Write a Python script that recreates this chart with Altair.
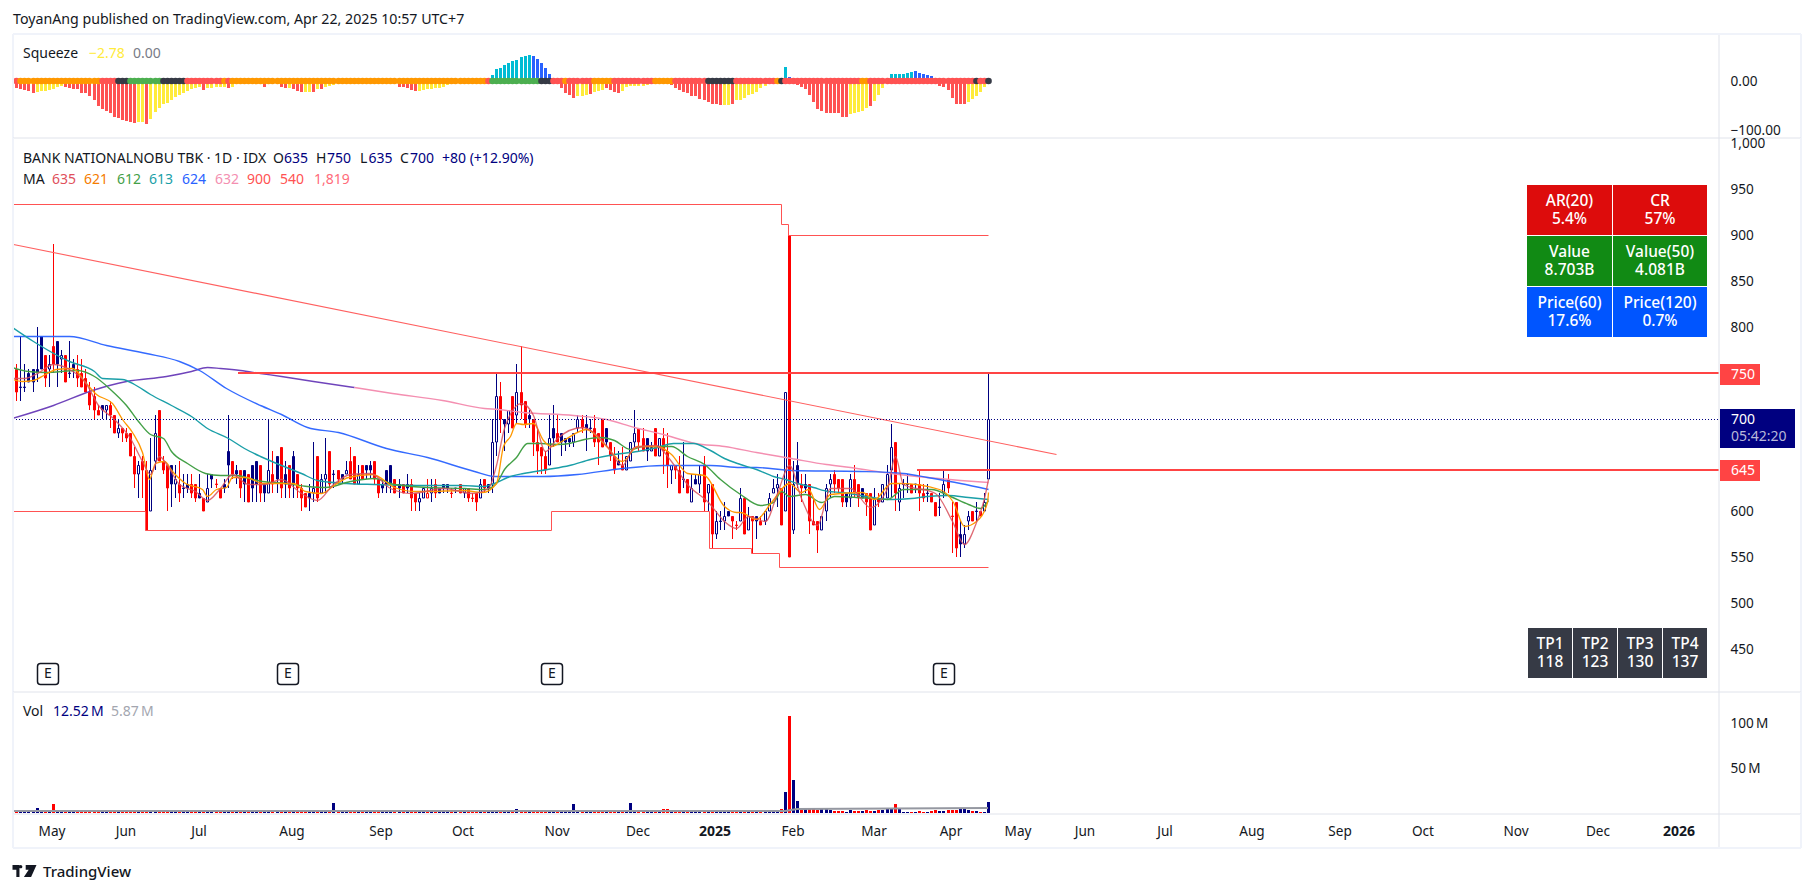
import altair as alt
import pandas as pd

FONT = "Noto Sans"
DARK = "#131722"
NAVY = "#000080"
RED = "#ff0000"
W = 1706
LEFT = 13
LEG = 14
AXF = 13.6
TAB = 15.5
TOPS = dict(head=8, sq=34, main=138, vol=692, time=814, foot=848)
H = dict(head=26, sq=104, main=554, vol=122, time=34, foot=33)
XDOM = [-0.81, 418.7]

kinds = ("rnnnnnnrNr" "nNrnnrrrrr" "rnNrrNrrrr" "NrrNNrrrnN" "rnnrrnrNnr" "rnnrnrnrnn"
         "rnNrnrnrnr" "rrnNrNNrnr" "nNrrNrnnrr" "nnnrnrnrrN" "NRNrnnnrnr" "NrrrNrnNNr"
         "nNrNrrnrrr" "rNnrnnnNNr" "nnrrrnrrnr" "NNNrrnNrNr" "rNrrnrNnNr" "NrNnNnrrNr"
         "NrnrNNNNrN" "rNnrnrrrNN" "NrrrnNrrnr" "rNrNNNrNnn" "rnrrnrrnNr" "rrnNNrnrNN")
highs = [760,790,760,755,755,800,790,770,770,890, 785,775,770,785,765,770,765,755,740,735,
         715,715,715,720,705,700,690,690,685,670, 655,660,655,680,705,710,660,650,650,650,
         655,640,640,640,630,640,615,640,640,635, 625,635,705,655,650,645,645,640,650,655,
         650,630,700,665,660,670,655,650,665,640, 630,620,630,675,660,640,680,665,645,645,
         640,655,670,660,650,650,650,655,655,635, 635,645,650,635,635,630,640,635,620,620,
         625,635,635,635,625,630,630,625,625,630, 625,625,620,620,635,635,630,700,750,740,
         700,710,725,760,780,720,710,700,690,670, 665,705,715,705,685,680,680,685,705,705,
         705,700,705,685,700,690,675,670,665,670, 660,675,710,690,690,680,675,690,680,690,
         685,650,650,660,675,635,640,640,650,660, 630,630,600,600,610,600,595,590,625,615,
         605,595,595,595,600,620,635,640,625,730, 900,655,675,640,640,630,615,590,595,630,
         640,645,635,635,620,640,650,630,625,620, 620,625,620,630,650,695,675,630,635,640,
         630,630,645,630,630,620,610,620,645,640, 610,610,590,585,600,600,610,600,620,750]
tops = [755,735,735,750,755,755,790,770,760,780, 785,770,770,750,760,755,750,745,730,725,
        710,715,715,715,705,690,690,685,685,660, 650,655,645,645,685,710,655,650,650,635,
        630,625,630,630,630,620,615,625,640,630, 625,630,665,655,645,645,645,640,650,655,
        650,630,645,640,660,670,640,650,660,640, 625,620,620,625,660,635,640,665,640,645,
        640,645,655,660,640,650,650,650,655,635, 630,645,650,635,630,630,630,630,620,615,
        625,620,625,630,625,630,630,620,625,630, 625,625,615,620,630,635,630,675,725,725,
        700,710,725,730,730,720,705,700,675,670, 660,680,690,685,685,680,680,685,700,700,
        695,690,690,685,700,690,675,660,655,650, 660,675,685,690,680,680,670,690,680,680,
        665,650,650,645,635,635,625,635,640,650, 630,630,590,590,595,600,595,585,615,615,
        595,595,595,590,600,615,625,630,625,730, 900,630,650,630,630,630,590,590,595,625,
        635,640,635,635,620,635,635,630,625,620, 620,615,615,630,640,670,675,625,630,630,
        630,630,630,620,620,620,610,605,630,635, 595,610,575,575,595,600,600,600,610,700]
bottoms = [730,735,735,740,740,750,755,745,755,760, 760,765,740,750,755,745,735,730,715,710,
           705,710,710,705,685,685,685,680,660,640, 640,645,580,600,655,655,645,625,630,630,
           620,625,625,620,615,615,600,610,635,630, 615,625,650,640,640,625,630,610,625,630,
           620,620,620,630,635,625,630,625,630,625, 615,605,615,620,615,620,635,630,640,635,
           635,640,635,630,630,635,645,645,635,620, 625,630,630,620,625,620,625,615,610,610,
           615,615,620,620,620,625,625,620,625,620, 620,615,615,610,615,625,625,630,675,700,
           695,695,690,705,715,695,700,675,665,660, 645,650,680,675,675,675,675,675,690,690,
           690,690,675,675,670,675,660,645,650,645, 645,655,675,675,665,665,665,660,660,665,
           650,645,645,620,635,620,610,630,630,610, 620,575,575,590,590,595,590,585,590,575,
           580,590,590,585,590,600,620,625,585,600, 550,580,630,625,625,590,585,580,580,600,
           630,630,625,610,610,615,620,615,615,610, 580,585,610,610,615,645,620,610,630,630,
           620,630,620,615,620,610,595,605,620,625, 595,560,565,565,590,590,600,595,600,635]
lows = [720,720,730,740,730,740,755,735,735,750, 735,750,740,745,745,735,735,730,710,700,
        705,700,700,690,685,680,675,675,660,625, 615,615,580,600,645,655,640,600,605,615,
        610,615,620,615,610,615,600,610,625,625, 615,620,625,635,630,615,610,610,610,610,
        610,610,620,620,620,615,615,615,615,615, 600,605,600,610,610,620,620,625,625,630,
        630,640,635,630,630,635,635,635,630,615, 620,620,620,620,615,620,620,600,600,600,
        615,615,610,615,620,620,620,615,620,620, 615,610,610,600,615,620,620,620,660,685,
        665,685,690,695,700,690,690,660,640,640, 640,650,670,675,660,665,670,670,685,685,
        665,685,670,650,670,670,655,640,650,645, 645,655,670,665,665,655,665,660,660,640,
        625,630,635,620,625,620,610,630,620,600, 600,560,570,580,580,595,570,580,590,575,
        580,555,570,585,585,600,620,605,585,600, 550,575,625,610,620,575,585,555,580,590,
        615,620,620,605,605,605,615,605,615,595, 580,585,605,610,615,615,600,600,615,620,
        620,620,600,610,610,610,595,595,615,620, 555,550,550,560,580,590,590,595,600,635]
volume = [1.2,1.0,1.1,1.5,1.2,6.0,2.0,1.8,1.5,10.0, 2.5,1.5,1.8,1.2,1.0,1.5,1.3,2.0,2.2,2.0,
          1.5,1.5,1.2,1.3,2.0,1.8,1.5,2.0,1.8,1.5, 1.5,1.2,2.0,1.8,1.2,1.5,1.0,1.3,1.2,1.0,
          1.0,0.8,1.0,1.2,1.0,0.8,1.2,1.3,1.0,0.8, 0.8,1.0,1.2,1.0,0.8,1.0,1.2,1.5,1.0,1.2,
          1.0,1.2,1.0,1.5,1.0,1.2,1.0,1.0,1.0,0.8, 1.0,1.2,1.0,1.2,0.8,1.0,1.2,1.5,11.0,1.0,
          1,0.8,1.2,1.5,1,1.2,1,0.8,1,1.2, 1,1,1.2,1,0.8,1,1,1.2,1,0.8,
          1,1.2,1,1,0.8,1,1,1.2,1,0.8, 1,1.2,1.5,1,1,1.2,2,1.5,3.5,2.5,
          2,1.5,2,4,3,2,1.5,2,3,2, 1.5,2,1.5,1.5,1,1.2,1,10,2,1.5,
          1.5,1.2,1.5,2,1.5,1,1.2,1.5,1,1, 2,11,2,1.5,2,1.5,1.5,2,1.5,4,
          4,2,1.5,1.5,1.2,1,1.5,1,1.2,1.5, 1,1.2,1.5,1,1,1.2,1,1,1,1.2,
          1,1,1,1,1.2,1,1,1.5,4.4,23, 108,36.6,13,4,6,4,5,3.5,5,4.5,
          3,2.5,2.5,2,1.5,3,2,2.5,2,3, 2,2,3,3,5,6,10,4.5,1.5,1.5,
          1.5,1.5,2,1,1,2,3,2,2,3, 3.5,3,5,5,3.5,2,2.5,1.5,1.5,12.52]

squeeze = [-14,-17,-19,-21,-24, -22,-21,-20,-19,-17,-13,-10,
           -12,-14,-16,-17,-24,-25,-31,-39,-51,-56,-61,-65,-73,-76,-80,-82, -83,-85, -83,-83, -88,
           -78,-63,-54,-47,-44,-39,-33,-29,-24,-20,-16,-15,-13, -18, -15,-14,-13,-12,-13, -15,
           -13,-5,-4,-4,-3,-4,-4,-4, -12, -6,-5,-5, -13,-15, -15, -17,-20,-22, -22,-22, -22, -17, -17,
           -13,-10,-8, -6,-5,-4,-3,-3,-2, 4,6,6,3, -2,-2,-3,-3,-3,
           -13,-13,-15,-18,-20, -20,-18,-17,-17,-15,-15,-12,-8,
           -3,-3,-2,-2,-2,-2,-2,-2,-2,-2,
           12,24,27,33,37,41,43,50,52,53, 52,45,37,26,14,7,3,
           -15,-24,-29,-34, -31,-30,-29, -27, -22,-20,-18, -15,-18,-23,-24,
           -20,-12,-11,-11,-11,-9,-7,-5,-3,-2,-2,-2,
           -8,-15,-18,-23,-25,-30,-31,-36,-39,-42,-46,-47,-49, -49,-48, -47,
           -39,-39,-35,-29,-27,-22,-15,-10,-5,-3,-2,-1, 29, 9,
           -4,-8,-12,-17,-29,-42,-56,-61,-65,-65,-65,-66,-73,-73, -67,-65,-63,-61,-55, -51, -40,-29,-15,-5,
           14,14,14,14,17,19, 20,17,14,12,10,7,
           -10,-12,-18,-35,-46,-47,-47, -42,-37,-31,-22,-12,-3]
squeeze_codes = ("r"*5 + "y"*7 + "r"*16 + "rr" + "yy" + "r" + "y"*13 + "r" + "y"*5 + "r" + "y"*8 + "r" + "yyy" + "rr" + "y"
                 + "rrr" + "yy" + "r" + "y" + "r" + "yyy" + "y"*6 + "tttb" + "y"*5 + "r"*5 + "y"*8 + "y"*10
                 + "t"*10 + "b"*7 + "r"*4 + "yyy" + "r" + "yyy" + "r"*4 + "y"*12 + "r"*13 + "yy" + "r" + "y"*12 + "tb"
                 + "r"*14 + "y"*5 + "r" + "y"*4 + "t"*6 + "b"*6 + "r"*7 + "y"*6)
dot_runs = [("r",1),("o",20),("r",4),("d",3),("g",8),("d",6),("r",9),("o",1),("r",1),("o",63),("r",1),("g",12),("d",3),
            ("r",3),("o",1),("r",6),("o",5),("r",10),("o",5),("r",8),("d",7),("r",10),("o",1),("d",1),("r",19),
            ("o",2),("r",26),("d",1),("r",2),("d",1)]

ma5_i = [-1,2,5,9,13,17,20,24,28,31,33,35,37,40,44,47,50,53,57,61,65,70,74,78,82,87,92,97,105,112,116,118,120,124,127,130,133,139,145,149,152,157,161,165,170,174,177,180,184,187,190,193,197,200,205,210,214,216,218,226,230,233,236,238,239]
ma5_p = [745,745,750,760,755,740,715,700,680,655,640,660,650,630,622,612,625,640,630,630,635,620,612,630,640,642,625,620,625,620,625,650,690,718,705,665,680,692,672,650,670,672,655,630,610,590,582,595,590,620,650,615,585,625,625,605,625,660,630,620,590,565,588,615,635]
ma10_i = [-1,1.5,4,7,9.7,13.8,17,19.5,23.6,26,28.5,31,32.6,34,36.3,38.4,41.6,45.7,47,49,51.5,53,56.4,60.5,65,68,71,75,78.4,81.6,87.4,93,98,101,109.5,114.5,118,119.6,121.5,123,124.7,127,129.6,131.6,134.5,140,145,149,152.6,157.5,161,165,169,174,177,178,182,185.6,190,193,194.6,197.5,200,208,211,215,217.3,227,230.4,233,236,238.7,239]
ma10_p = [744,742,743,749,755,756,740,727,718,700,686,664,635,653,655,644,631,624,617,624,626,637,637,631,631,631,622,620,630,637,641,626,622,622,623,621,631,671,682,696,695,696,677,671,677,689,671,655,671,671,662,642,639,606,599,599,592,610,631,621,624,603,619,621,613,631,631,624,610,584,590,610,621]
ma20_i = [-1,3,7,15,19,23,27,30,33,36,38,42,46.5,50,54,58,60.5,66,71.5,76,82,88,93,101,110,115,118,120,123,125.5,129,133,136,139.5,143.5,147,151,154,161,165,169,173,178,183,186,188,190,194,198,201,207,214,218,225,229.6,234,237,239]
ma20_p = [757,752,751,754,747,733,716,698,684,680,666,653,642,639,639,635,633,631,627,626,633,636,630,626,625,624,631,646,659,674,674,673,674,679,681,677,668,671,671,660,651,635,619,607,610,622,617,619,610,617,616,613,624,624,617,608,604,612]
ma50_i = [-1,4,10,13,19,21,26,29,33,38,43,47,52,56,60,65,70,74,81,88,101,109,115,117.5,120.6,124.7,130.4,136,141,147,152.6,157.5,161.6,166.5,170.6,174,178,182,186,189,192,196,199.5,203,209,215,220,224,229,234,239]
ma50_p = [800,785,770,763,752,745,744,738,727,716,704,691,680,669,660,650,642,634,631,630,629,629,627,631,637,642,646,650,657,662,666,670,674,674,667,658,651,646,638,635,631,626,622,621,617,613,615,617,618,616,613]
ma100_i = [-1,13,22,32,40,45,51.5,60,65,71.5,79,91,101,112.5,117.5,129.6,138,149,159,170.6,178,182,190.5,207.5,218,224,232,239]
ma100_p = [790,790,781,772,763,754,734,716,706,692,686,669,659,644,638,638,640,647,650,650,648,648,645,644,642,637,631,624]
ma200a_i = [-1,9,18.7,27,36.7,43,47,50,55,60,65,73,83]
ma200a_p = [701,716,732,742,747,752,757,756,754,750,747,741,735]
ma200b_i = [83,92.5,104.6,115,118.5,124.7,137,145,152,159,167,174,182,190.5,199,205,215,224,232,239]
ma200b_p = [735,729,721,712,711,708,705,700,692,684,674,671,664,658,651,648,642,637,634,632]
upper_i = [-0.81,188,189.8,239]
upper_p = [934,912,900,900]
lower_i = [-0.81,31.6,131.4,170.3,180.6,187.5,239]
lower_p = [600,580,600,560,555,540,540]
trend_i = [-0.81,255.6]
trend_p = [890,662.5]
vol_ma_i = [-1,189,192,239]
vol_ma_v = [2,2,5,5.87]
earn_i = [7.7,66.8,131.7,228.1]
month_labels = ["May","Jun","Jul","Aug","Sep","Oct","Nov","Dec","Feb","Mar","Apr","May","Jun","Jul","Aug","Sep","Oct","Nov","Dec"]
month_i = [8.7,26.9,44.9,67.8,89.7,109.8,132.9,152.9,190.9,210.9,229.8,246.3,262.8,282.5,303.8,325.5,346,368.7,389]
year_labels = ["2025","2026"]
year_i = [171.8,408.8]
sq_ticks = [0, -100]
price_ticks = [1000, 950, 900, 850, 800, 600, 550, 500, 450]
vol_ticks = [100, 50]

ONE = alt.Data(values=[{}])
n = len(kinds)
idx = list(range(n))
up = [k in "nN" for k in kinds]
candle = pd.DataFrame(dict(i=idx, h=highs, t=tops, b=bottoms, l=lows,
                           edge=[NAVY if u else RED for u in up],
                           body=["#ffffff" if k in "NR" else (NAVY if k == "n" else RED) for k in kinds],
                           vol=volume))
sq_map = dict(r="#ff5252", y="#ffeb3b", t="#00bcd4", b="#2962ff")
sq_df = pd.DataFrame(dict(i=idx, v=squeeze, c=[sq_map[c] for c in squeeze_codes], z=[0]*n))
dot_map = dict(r="#ff5252", o="#ff9800", g="#4caf50", d="#363a45")
dot_codes = "".join(c*k for c, k in dot_runs)
dot_df = pd.DataFrame(dict(i=idx, c=[dot_map[c] for c in dot_codes], z=[0]*n))

SQ = (-116, 96)
PR = (403.8, 1005.4)
VO = (-1.1, 134.4)


def make_axis(values, expr, pad):
    return alt.Axis(orient="right", values=values, labelExpr=expr, domain=False, ticks=False, grid=False,
                    labelPadding=pad, labelFont=FONT, labelFontSize=AXF, labelColor=DARK, labelOverlap=False,
                    labelFlush=False, labelBound=False, title=None)


AXES = {SQ: make_axis(sq_ticks, "datum.value==0?'0.00':'\u2212100.00'", 11),
        PR: make_axis(price_ticks, "format(datum.value, ',')", 11),
        VO: make_axis(vol_ticks, "datum.value+'\u2009M'", 11)}


def sx():
    return alt.X("i:Q", scale=alt.Scale(domain=XDOM, nice=False, zero=False, padding=0, round=True), axis=None)


def sy(field, dom):
    return alt.Y(f"{field}:Q", scale=alt.Scale(domain=list(dom), nice=False, zero=False, round=True),
                 axis=AXES[dom], title=None)


def T(s, ax, ay, top, color=DARK, size=LEG, weight=400, align="left", font=FONT, opacity=1):
    return alt.Chart(ONE).mark_text(font=font, fontSize=size, fontWeight=weight, align=align, baseline="middle",
                                    color=color, opacity=opacity).encode(
        x=alt.value(ax - LEFT), y=alt.value(ay - top), text=alt.value(s))


def R(x0, x1, y0, y1, top, color):
    return alt.Chart(ONE).mark_rect(color=color).encode(
        x=alt.value(x0 - LEFT), x2=alt.value(x1 - LEFT), y=alt.value(y0 - top), y2=alt.value(y1 - top))


def hline(y, color="#e0e3eb", w=1):
    return alt.Chart(ONE).mark_rule(color=color, strokeWidth=w).encode(
        x=alt.value(0), x2=alt.value(1788), y=alt.value(y))


def vline(x, h, color="#e0e3eb", w=1):
    return alt.Chart(ONE).mark_rule(color=color, strokeWidth=w).encode(
        x=alt.value(x), y=alt.value(0), y2=alt.value(h))


def frame(h):
    return [vline(0, h, "#f0f3fa", 2), vline(W, h, "#e0e3eb", 1), vline(1788, h, "#f0f3fa", 2)]


def line(i, p, color, w=1.4, dom=PR, interp="monotone", opacity=1):
    df = pd.DataFrame(dict(i=i, p=p))
    return alt.Chart(df).mark_line(color=color, strokeWidth=w, interpolate=interp, clip=True, opacity=opacity,
                                   xOffset=0.5, yOffset=0.5).encode(x=sx(), y=sy("p", dom))


# --- head
head = alt.layer(
    T("ToyanAng published on TradingView.com, Apr 22, 2025 10:57 UTC+7", 13, 20, TOPS["head"], size=14.2),
).properties(width=W, height=H["head"])

# --- squeeze pane
sq_top = TOPS["sq"]
squeeze_pane = alt.layer(
    alt.Chart(sq_df).mark_bar(size=3, orient="vertical", xOffset=0.5).encode(
        x=sx(), y=sy("v", SQ), y2=alt.Y2("z:Q"), color=alt.Color("c:N", scale=None)),
    alt.Chart(dot_df).mark_point(filled=True, size=44, opacity=1, xOffset=0.5).encode(
        x=sx(), y=sy("z", SQ), color=alt.Color("c:N", scale=None)),
    *frame(H["sq"]),
    hline(0, "#f0f3fa", 2), hline(H["sq"]),
    T("Squeeze", 23, 54, sq_top),
    T("\u22122.78", 89, 54, sq_top, "#ffeb3b"),
    T("0.00", 133, 54, sq_top, "#787b86"),
).properties(width=W, height=H["sq"])

# --- main pane
m_top = TOPS["main"]
hrays = pd.DataFrame(dict(i=[54.5, 221.5], i2=[XDOM[1], XDOM[1]], p=[750, 645]))
last = pd.DataFrame(dict(i=[XDOM[0]], i2=[XDOM[1]], p=[700]))
earn_df = pd.DataFrame(dict(i=earn_i, e=["E"]*len(earn_i)))
tab1 = []
cells = [(1527, 1612, 185, 235, "#dd0c0c", "AR(20)", "5.4%"), (1613, 1707, 185, 235, "#dd0c0c", "CR", "57%"),
         (1527, 1612, 236, 286, "#118a14", "Value", "8.703B"), (1613, 1707, 236, 286, "#118a14", "Value(50)", "4.081B"),
         (1527, 1612, 287, 337, "#0055ff", "Price(60)", "17.6%"), (1613, 1707, 287, 337, "#0055ff", "Price(120)", "0.7%"),
         (1528, 1572, 628, 678, "#363a45", "TP1", "118"), (1573, 1617, 628, 678, "#363a45", "TP2", "123"),
         (1618, 1662, 628, 678, "#363a45", "TP3", "130"), (1663, 1707, 628, 678, "#363a45", "TP4", "137")]
for x0, x1, y0, y1, c, a, b in cells:
    tab1.append(R(x0, x1, y0, y1, m_top, c))
    tab1.append(T(a, (x0 + x1) / 2, y0 + 15.5, m_top, "#ffffff", TAB, 500, "center"))
    tab1.append(T(b, (x0 + x1) / 2, y0 + 34.2, m_top, "#ffffff", TAB, 500, "center"))

legend1 = [T("BANK NATIONALNOBU TBK \u00b7 1D \u00b7 IDX", 23, 159, m_top),
           T("O", 273, 159, m_top), T("635", 284, 159, m_top, NAVY),
           T("H", 316, 159, m_top), T("750", 327, 159, m_top, NAVY),
           T("L", 360, 159, m_top), T("635", 368.5, 159, m_top, NAVY),
           T("C", 400, 159, m_top), T("700", 410, 159, m_top, NAVY),
           T("+80 (+12.90%)", 442, 159, m_top, NAVY),
           T("MA", 23, 180, m_top)]
for s, x, c in [("635", 52, "#e0505c"), ("621", 84, "#f57c00"), ("612", 117, "#43a047"), ("613", 149, "#1a9fa8"),
                ("624", 182, "#2962ff"), ("632", 215, "#f48fb1"), ("900", 247, "#ff5252"), ("540", 280, "#ff5252"),
                ("1,819", 314, "#ff6b7a")]:
    legend1.append(T(s, x, 180, m_top, c))

boxes = [R(1720, 1760, 364, 385, m_top, "#ff4444"), T("750", 1731, 374.5, m_top, "#ffffff"),
         R(1720, 1760, 460, 481, m_top, "#ff4444"), T("645", 1731, 470.5, m_top, "#ffffff"),
         R(1720, 1795, 409, 448, m_top, NAVY), T("700", 1731, 419.5, m_top, "#ffffff"),
         T("05:42:20", 1731, 437, m_top, "#b8b8d8")]

main_pane = alt.layer(
    alt.Chart(candle).mark_rule(strokeWidth=1, xOffset=0.5).encode(
        x=sx(), y=sy("h", PR), y2=alt.Y2("l:Q"), color=alt.Color("edge:N", scale=None)),
    alt.Chart(candle).mark_bar(size=2, orient="vertical", strokeWidth=1, xOffset=0.5, yOffset=0.5).encode(
        x=sx(), y=sy("t", PR), y2=alt.Y2("b:Q"), fill=alt.Fill("body:N", scale=None),
        stroke=alt.Stroke("edge:N", scale=None)),
    line(ma200a_i, ma200a_p, "#673ab7", opacity=0.95),
    line(ma200b_i, ma200b_p, "#f48fb1"),
    line(ma100_i, ma100_p, "#2962ff", opacity=0.95),
    line(ma50_i, ma50_p, "#1a9fa8"),
    line(ma20_i, ma20_p, "#43a047"),
    line(ma10_i, ma10_p, "#ff9800", 1.3),
    line(ma5_i, ma5_p, "#d9505c", 1.3, opacity=0.85),
    line(upper_i, upper_p, "#ff5252", 1, interp="step-after"),
    line(lower_i, lower_p, "#ff5252", 1, interp="step-after"),
    line(trend_i, trend_p, "#ff6060", 1.1, interp="linear"),
    alt.Chart(hrays).mark_rule(color="#ff4444", strokeWidth=2).encode(x=sx(), x2=alt.X2("i2:Q"), y=sy("p", PR)),
    alt.Chart(last).mark_rule(color=NAVY, strokeWidth=1, strokeDash=[1, 2], yOffset=0.5).encode(
        x=sx(), x2=alt.X2("i2:Q"), y=sy("p", PR)),
    alt.Chart(earn_df).mark_rect(width=21, height=21, cornerRadius=3, fill="#ffffff", stroke=DARK, strokeWidth=1.5).encode(
        x=sx(), y=alt.value(674 - m_top)),
    alt.Chart(earn_df).mark_text(font=FONT, fontSize=14, color=DARK).encode(
        x=sx(), y=alt.value(674 - m_top), text="e:N"),
    *frame(H["main"]), hline(H["main"]),
    *tab1, *legend1, *boxes,
).properties(width=W, height=H["main"])

# --- volume pane
v_top = TOPS["vol"]
vol_df = candle.assign(z=0)
vm = pd.DataFrame(dict(i=vol_ma_i, p=vol_ma_v))
vol_pane = alt.layer(
    alt.Chart(vol_df).mark_bar(size=3, orient="vertical", xOffset=0.5).encode(
        x=sx(), y=sy("vol", VO), y2=alt.Y2("z:Q"), color=alt.Color("edge:N", scale=None)),
    alt.Chart(vm).mark_line(color="#9598a1", strokeWidth=2.2, clip=True).encode(x=sx(), y=sy("p", VO)),
    *frame(H["vol"]), hline(H["vol"]),
    T("Vol", 23, 712, v_top),
    T("12.52\u2009M", 53, 712, v_top, NAVY),
    T("5.87\u2009M", 111, 712, v_top, "#a3a6af"),
).properties(width=W, height=H["vol"])

# --- time axis
month_df = pd.DataFrame(dict(i=month_i, s=month_labels))
year_df = pd.DataFrame(dict(i=year_i, s=year_labels))
time_pane = alt.layer(
    alt.Chart(month_df).mark_text(font=FONT, fontSize=13.6, color=DARK).encode(x=sx(), y=alt.value(18), text="s:N"),
    alt.Chart(year_df).mark_text(font=FONT, fontSize=14, fontWeight="bold", color=DARK).encode(x=sx(), y=alt.value(18), text="s:N"),
    *frame(H["time"]), hline(H["time"], "#f0f3fa", 2),
).properties(width=W, height=H["time"])

# --- footer
f_top = TOPS["foot"]
logo = alt.Chart(ONE).mark_point(
    shape="M-1 -.5H-.42V.5H-.68V-.1H-1ZM-.32 -.5A.14 .14 0 1 1 -.32 -.22A.14 .14 0 1 1 -.32 -.5ZM.1 -.5H1L.55 .5H-.05L.35 -.1H.1Z",
    size=576, filled=True, color=DARK, opacity=1).encode(x=alt.value(24.5 - LEFT), y=alt.value(871 - f_top))
foot = alt.layer(logo, T("TradingView", 43, 872, f_top, DARK, 15, 500)).properties(width=W, height=H["foot"])

chart = alt.vconcat(head, squeeze_pane, main_pane, vol_pane, time_pane, foot, spacing=0, bounds="flush").properties(
    padding={"left": 4, "top": 0, "right": 0, "bottom": 0}
).configure_view(stroke=None)

chart.save("out.html", embed_options={"renderer": "svg", "actions": False})
